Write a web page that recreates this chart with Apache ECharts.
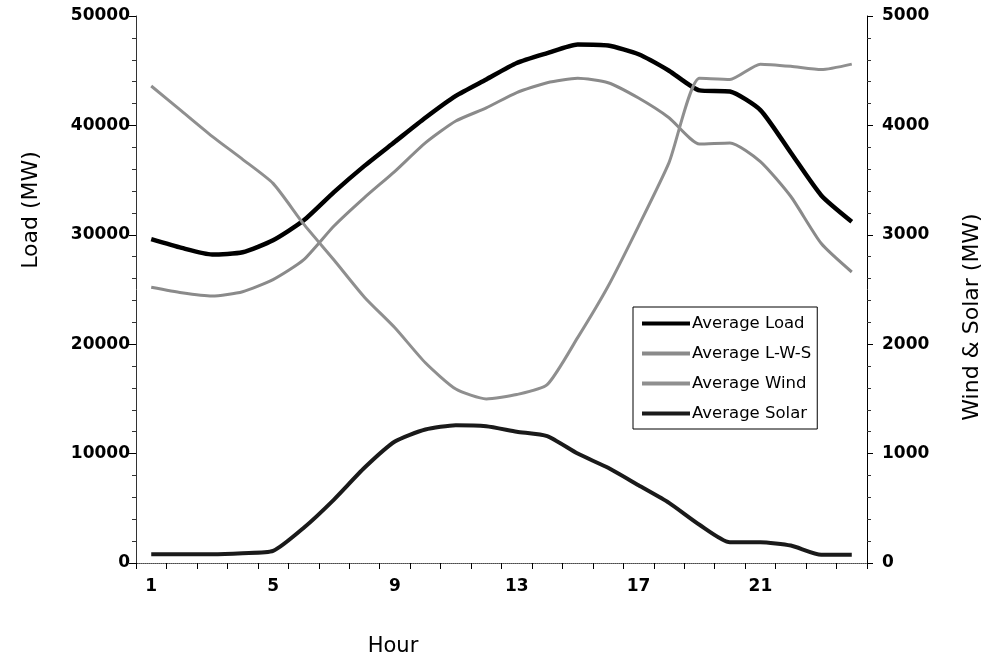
<!DOCTYPE html>
<html>
<head>
<meta charset="utf-8">
<script src="https://cdn.jsdelivr.net/npm/echarts@6/dist/echarts.min.js"></script>
<style>
  html, body { margin: 0; padding: 0; background: #fff; }
  #chart { width: 990px; height: 669px; }
</style>
</head>
<body>
<div id="chart"></div>
<script>
// Hourly averages: system load and net load on the left axis, wind and solar on the right
const hours = ['1','2','3','4','5','6','7','8','9','10','11','12','13','14','15','16','17','18','19','20','21','22','23','24'];
const avgLoad  = [29600, 28800, 28200, 28400, 29500, 31300, 33900, 36300, 38500, 40700, 42700, 44200, 45700, 46600, 47400, 47300, 46500, 45000, 43200, 43100, 41400, 37500, 33600, 31200];
const avgLWS   = [25200, 24700, 24400, 24800, 25900, 27700, 30800, 33400, 35800, 38400, 40400, 41600, 43000, 43900, 44300, 43900, 42500, 40700, 38300, 38400, 36700, 33500, 29200, 26600];
const avgWind  = [4360, 4130, 3900, 3690, 3470, 3100, 2770, 2430, 2150, 1830, 1590, 1500, 1540, 1630, 2060, 2530, 3080, 3660, 4430, 4420, 4560, 4540, 4510, 4560];
const avgSolar = [80, 80, 80, 90, 110, 320, 580, 870, 1110, 1220, 1260, 1250, 1200, 1160, 1000, 870, 710, 550, 350, 190, 190, 160, 75, 75];
const loadTicks = { min: 0, max: 50000, interval: 10000 };
const resTicks  = { min: 0, max: 5000, interval: 1000 };

const FONT = 'DejaVu Sans';
const plain = v => String(v);
const chart = echarts.init(document.getElementById('chart'), null, { renderer: 'canvas' });

chart.setOption({
  animation: false,
  backgroundColor: '#ffffff',
  textStyle: { fontFamily: FONT, color: '#000' },
  grid: { left: 136, right: 123, top: 16, bottom: 106, containLabel: false },
  legend: {
    orient: 'vertical',
    left: 633, top: 307,
    padding: [8, 6, 7, 9],
    icon: 'rect',
    itemWidth: 48, itemHeight: 4, itemGap: 13,
    borderColor: '#000', borderWidth: 1, backgroundColor: '#fff',
    textStyle: { fontFamily: FONT, fontSize: 16.5, color: '#000', padding: [0, 0, 0, -3] },
    data: ['Average Load', 'Average L-W-S', 'Average Wind', 'Average Solar']
  },
  xAxis: [{
    type: 'category',
    data: hours,
    boundaryGap: true,
    axisLine: { lineStyle: { color: '#000', width: 1 } },
    axisTick: { show: true, interval: 0, length: 6, lineStyle: { color: '#000' } },
    axisLabel: { interval: 3, margin: 15, fontFamily: FONT, fontSize: 17, fontWeight: 'bold', color: '#000' },
    splitLine: { show: false }
  }, {
    type: 'category',
    data: hours,
    position: 'top',
    axisLine: { lineStyle: { color: '#777', width: 1, type: 'dotted' } },
    axisTick: { show: false },
    axisLabel: { show: false },
    splitLine: { show: false }
  }],
  yAxis: [{
    type: 'value',
    position: 'left',
    min: loadTicks.min, max: loadTicks.max, interval: loadTicks.interval,
    axisLine: { show: true, lineStyle: { color: '#333', width: 1 } },
    axisTick: { show: true, length: 7, lineStyle: { color: '#000' } },
    minorTick: { show: true, splitNumber: 5, length: 4, lineStyle: { color: '#333' } },
    axisLabel: { margin: 6, formatter: plain, fontFamily: FONT, fontSize: 17, fontWeight: 'bold', color: '#000' },
    splitLine: { show: false }
  }, {
    type: 'value',
    position: 'right',
    min: resTicks.min, max: resTicks.max, interval: resTicks.interval,
    axisLine: { show: true, lineStyle: { color: '#000', width: 1 } },
    axisTick: { show: true, length: 6, lineStyle: { color: '#000' } },
    minorTick: { show: true, splitNumber: 5, length: 4, lineStyle: { color: '#333' } },
    axisLabel: { margin: 15, formatter: plain, fontFamily: FONT, fontSize: 17, fontWeight: 'bold', color: '#000' },
    splitLine: { show: false }
  }],
  series: [{
    name: 'Average Load', type: 'line', xAxisIndex: 0, yAxisIndex: 0,
    data: avgLoad, symbol: 'none', smooth: 0.2, z: 3,
    lineStyle: { color: '#000', width: 4.5 }, itemStyle: { color: '#000' }
  }, {
    name: 'Average L-W-S', type: 'line', xAxisIndex: 0, yAxisIndex: 0,
    data: avgLWS, symbol: 'none', smooth: 0.2, z: 2,
    lineStyle: { color: '#8a8a8a', width: 3 }, itemStyle: { color: '#8a8a8a' }
  }, {
    name: 'Average Wind', type: 'line', xAxisIndex: 0, yAxisIndex: 1,
    data: avgWind, symbol: 'none', smooth: 0.2, z: 4,
    lineStyle: { color: '#8f8f8f', width: 3 }, itemStyle: { color: '#8f8f8f' }
  }, {
    name: 'Average Solar', type: 'line', xAxisIndex: 0, yAxisIndex: 1,
    data: avgSolar, symbol: 'none', smooth: 0.2, z: 3,
    lineStyle: { color: '#1a1a1a', width: 4 }, itemStyle: { color: '#1a1a1a' }
  }],
  graphic: [{
    type: 'text',
    x: 393, y: 647,
    style: { text: 'Hour', x: 0, y: 0, align: 'center', verticalAlign: 'middle',
             fontFamily: FONT, fontSize: 21, fill: '#000' }
  }, {
    type: 'text',
    x: 31, y: 210, rotation: Math.PI / 2,
    style: { text: 'Load (MW)', x: 0, y: 0, align: 'center', verticalAlign: 'middle',
             fontFamily: FONT, fontSize: 22, fill: '#000' }
  }, {
    type: 'text',
    x: 972, y: 317, rotation: Math.PI / 2,
    style: { text: 'Wind & Solar (MW)', x: 0, y: 0, align: 'center', verticalAlign: 'middle',
             fontFamily: FONT, fontSize: 22, fill: '#000' }
  }]
});
</script>
</body>
</html>
